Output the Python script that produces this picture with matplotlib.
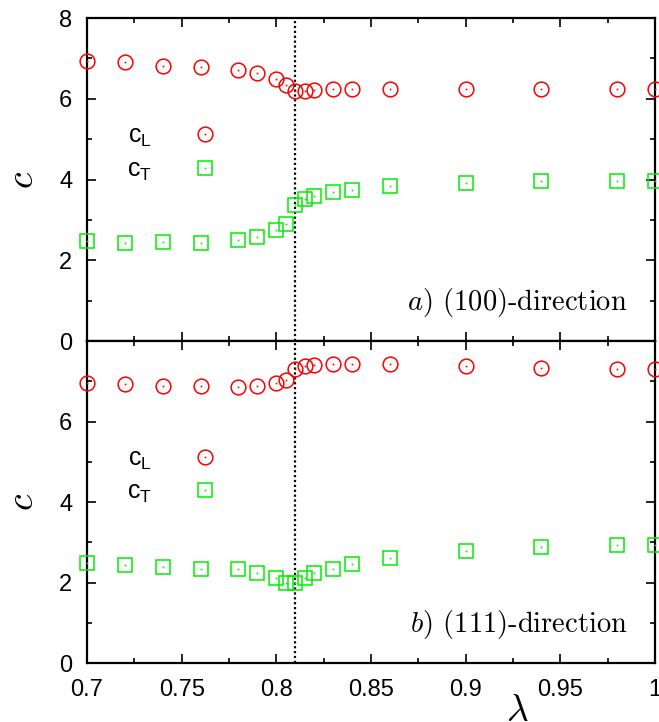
import matplotlib
matplotlib.use('Agg')
import matplotlib.pyplot as plt
from matplotlib.legend_handler import HandlerTuple
from matplotlib.ticker import MultipleLocator

plt.rcParams['font.family'] = ['Liberation Sans', 'DejaVu Sans']
plt.rcParams['mathtext.fontset'] = 'cm'

lam = [0.70, 0.72, 0.74, 0.76, 0.78, 0.79, 0.80, 0.805, 0.81, 0.815, 0.82,
       0.83, 0.84, 0.86, 0.90, 0.94, 0.98, 1.00]
cL_100 = [6.93, 6.90, 6.82, 6.78, 6.71, 6.63, 6.49, 6.35, 6.20, 6.20, 6.21,
          6.24, 6.24, 6.24, 6.24, 6.24, 6.24, 6.24]
cT_100 = [2.48, 2.44, 2.45, 2.44, 2.50, 2.57, 2.74, 2.91, 3.37, 3.52, 3.60,
          3.69, 3.75, 3.84, 3.92, 3.96, 3.97, 3.96]
cL_111 = [6.96, 6.92, 6.89, 6.87, 6.86, 6.88, 6.96, 7.04, 7.30, 7.38, 7.41,
          7.44, 7.44, 7.43, 7.38, 7.33, 7.30, 7.30]
cT_111 = [2.48, 2.43, 2.39, 2.34, 2.33, 2.24, 2.12, 1.99, 1.99, 2.12, 2.23,
          2.34, 2.45, 2.61, 2.79, 2.88, 2.92, 2.92]
lam_c = 0.81
xticks = [0.7, 0.75, 0.8, 0.85, 0.9, 0.95, 1.0]
xticklabels = ['0.7', '0.75', '0.8', '0.85', '0.9', '0.95', '1']
yticks = [0, 2, 4, 6, 8]
panel_labels = [r'$a)$ (100)-direction', r'$b)$ (111)-direction']
leg_labels = [r'$\mathregular{c_L}$', r'$\mathregular{c_T}$']

RED = '#ff0000'
GREEN = '#00ee00'

fig = plt.figure(figsize=(6.59, 7.22), dpi=100)
L, W = 0.132, 0.862
axa = fig.add_axes([L, 0.5277, W, 0.4473])
axb = fig.add_axes([L, 0.0817, W, 0.446])

datasets = [(axa, cL_100, cT_100, panel_labels[0]),
            (axb, cL_111, cT_111, panel_labels[1])]

for i, (ax, cl, ct, lab) in enumerate(datasets):
    ax.set_xlim(0.7, 1.0)
    ax.set_ylim(0, 8)
    ax.axvline(lam_c, color='black', linestyle=(0, (1, 1.2)), linewidth=1.6, zorder=1)
    h1, = ax.plot(lam, cl, linestyle='none', marker='o', ms=10.6, mfc='none',
                  mec=RED, mew=1.1, clip_on=False, zorder=3)
    d1, = ax.plot(lam, cl, linestyle='none', marker='s', ms=1.2, mfc=RED,
                  mec=RED, mew=0, clip_on=False, zorder=3)
    h2, = ax.plot(lam, ct, linestyle='none', marker='s', ms=10.6, mfc='none',
                  mec=GREEN, mew=1.1, clip_on=False, zorder=3)
    d2, = ax.plot(lam, ct, linestyle='none', marker='s', ms=1.2, mfc=GREEN,
                  mec=GREEN, mew=0, clip_on=False, zorder=3)
    ax.legend([(h1, d1), (h2, d2)], leg_labels,
              handler_map={tuple: HandlerTuple(ndivide=1)},
              markerfirst=False, frameon=False, numpoints=1,
              fontsize=18, loc='upper left', bbox_to_anchor=(0.07, 0.672),
              borderpad=0, borderaxespad=0, handlelength=2.3,
              handletextpad=1.0, labelspacing=0.33)
    ax.text(0.952, 0.095, lab, transform=ax.transAxes, ha='right', va='baseline',
            fontsize=20.5, family='cmr10')
    ax.set_xticks(xticks)
    ax.xaxis.set_minor_locator(MultipleLocator(0.025))
    ax.yaxis.set_minor_locator(MultipleLocator(1))
    ax.tick_params(which='both', direction='in', top=True, right=True,
                   width=1.2, labelsize=17)
    ax.tick_params(which='major', length=6.5)
    ax.tick_params(which='minor', length=3.6)
    ax.tick_params(axis='y', pad=10.5)
    ax.tick_params(axis='x', pad=11.5)
    for s in ax.spines.values():
        s.set_linewidth(1.6)
    ax.set_ylabel(r'$c$', fontsize=27, va='center', ha='center')
    ax.yaxis.set_label_coords(-0.113, 0.5)

axa.set_yticks(yticks)
axa.set_xticklabels([])
axb.set_yticks(yticks)
axb.set_yticklabels(['0', '2', '4', '6', ''])
axb.set_xticklabels(xticklabels)
axb.set_xlabel(r'$\lambda$', fontsize=27, va='center', ha='center')
axb.xaxis.set_label_coords(0.757, -0.15)

fig.savefig('out.png', dpi=100)
